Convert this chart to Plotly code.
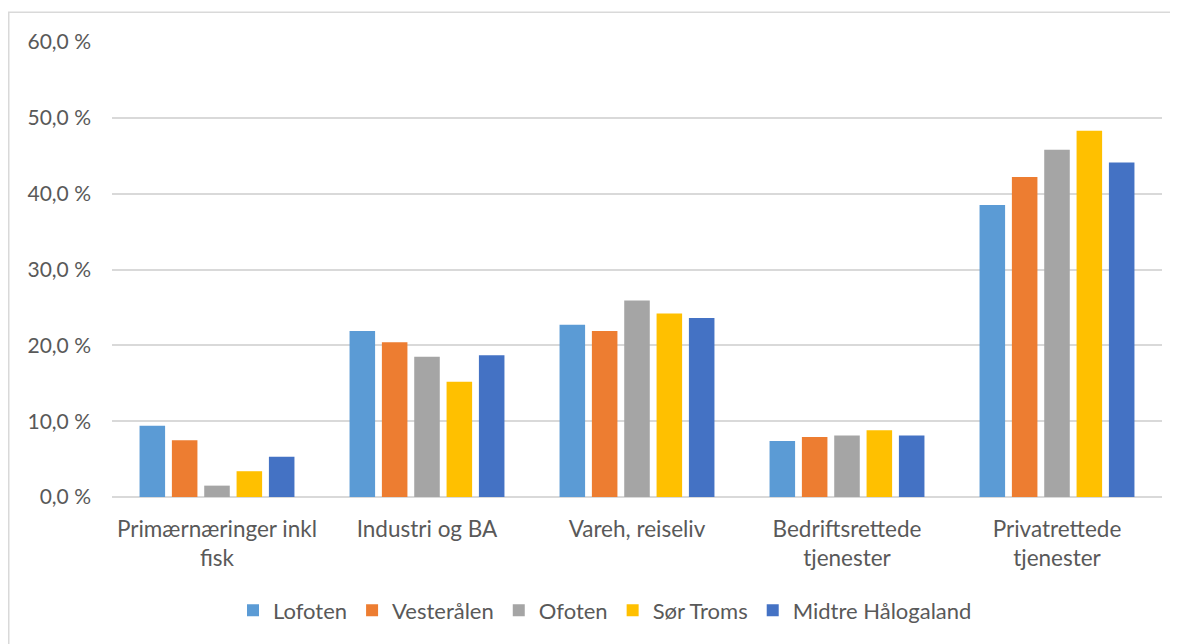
import plotly.graph_objects as go

categories = ["Primærnæringer inkl<br>fisk", "Industri og BA", "Vareh, reiseliv",
              "Bedriftsrettede<br>tjenester", "Privatrettede<br>tjenester"]
series_names = ["Lofoten", "Vesterålen", "Ofoten", "Sør Troms", "Midtre Hålogaland"]
lofoten = [9.4, 21.9, 22.7, 7.4, 38.5]
vesteralen = [7.5, 20.4, 21.9, 7.9, 42.2]
ofoten = [1.5, 18.5, 25.9, 8.1, 45.8]
sor_troms = [3.4, 15.2, 24.2, 8.8, 48.3]
midtre = [5.3, 18.7, 23.6, 8.1, 44.1]
colors = ["#5B9BD5", "#ED7D31", "#A5A5A5", "#FFC000", "#4472C4"]
y_ticks = [0, 10, 20, 30, 40, 50, 60]
y_labels = ["0,0 %", "10,0 %", "20,0 %", "30,0 %", "40,0 %", "50,0 %", "60,0 %"]

W, H = 1170, 636
L, R, T, B = 104, 16, 34, 145
pw, ph = W - L - R, H - T - B

fig = go.Figure()
for name, vals, c in zip(series_names, [lofoten, vesteralen, ofoten, sor_troms, midtre], colors):
    fig.add_trace(go.Bar(name=name, x=categories, y=vals, marker=dict(color=c, line=dict(width=0))))

font_fam = "Lato, 'Open Sans', sans-serif"
fig.update_layout(
    width=W, height=H,
    margin=dict(l=L, r=R, t=T, b=B),
    paper_bgcolor="white", plot_bgcolor="white",
    barmode="group", bargap=0.23, bargroupgap=0.21,
    font=dict(family=font_fam, size=21, color="#595959"),
    showlegend=True,
    legend=dict(orientation="h", x=(597 - L) / pw, xanchor="center", y=(H - B - 605) / ph,
                yanchor="middle", font=dict(size=22, color="#595959"), itemwidth=30,
                traceorder="normal"),
    xaxis=dict(showgrid=False, showline=False, ticks="", ticklabelstandoff=16,
               tickfont=dict(size=22.5, color="#595959")),
    yaxis=dict(range=[0, 60], tickvals=y_ticks, ticktext=y_labels, showgrid=True,
               gridcolor="#D9D9D9", gridwidth=1.5, zeroline=True, zerolinecolor="#D9D9D9",
               zerolinewidth=1.5, showline=False, ticks="", ticklabelstandoff=20,
               tickfont=dict(size=21, color="#595959")),
)

# outer chart frame
def px2x(p):
    return (p - L) / pw

def py2y(p):
    return (H - B - p) / ph

fig.add_shape(type="rect", xref="paper", yref="paper",
              x0=px2x(0.75), x1=px2x(1200), y0=py2y(4), y1=py2y(680),
              line=dict(color="#D9D9D9", width=1.5), fillcolor="rgba(0,0,0,0)", layer="below")

fig.write_html("out.html")
